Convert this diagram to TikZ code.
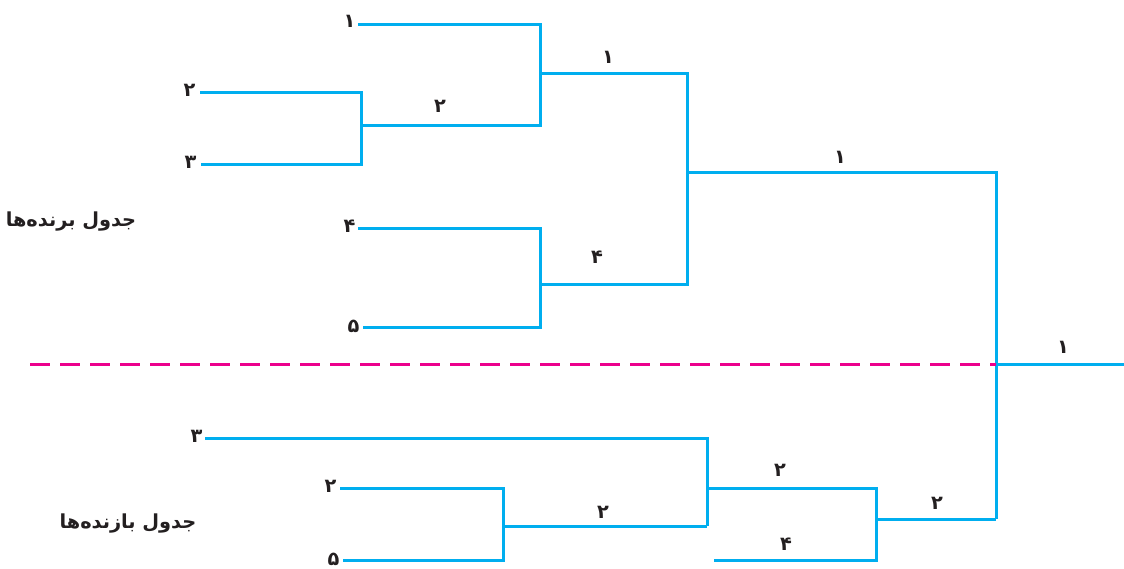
\documentclass[tikz,border=0pt]{standalone}
\usepackage{fontspec}
\newfontfamily\arabicfont[Script=Arabic]{DejaVu Sans}
\TeXXeTstate=1
\definecolor{brc}{HTML}{00AEEF}
\definecolor{dashc}{HTML}{EC008C}
\definecolor{txt}{HTML}{231F20}
\begin{document}
\begin{tikzpicture}[x=0.75pt,y=-0.75pt,
  br/.style={draw=brc, line width=2.25pt},
  sep/.style={draw=dashc, line width=2.25pt, dash pattern=on 15pt off 7.5pt},
  num/.style={font=\arabicfont\bfseries\fontsize{14.5}{16}\selectfont, text=txt, inner sep=1pt},
  ttl/.style={font=\arabicfont\bfseries\fontsize{14.5}{17}\selectfont, text=txt, inner sep=0pt}]
\useasboundingbox (0,0) rectangle (1124,568);
% leaf coordinates (upper)
\coordinate (L1) at (358,24);
\coordinate (L2) at (200,92);
\coordinate (L3) at (201,164);
\coordinate (L4) at (358,228);
\coordinate (L5) at (363,327);
% junctions (upper)
\coordinate (J23) at (361,125);
\coordinate (J1) at (540,125);
\coordinate (M1) at (540,73);
\coordinate (J45a) at (540,327);
\coordinate (M45) at (540,284);
\coordinate (JW) at (687,284);
\coordinate (MW) at (687,172);
\coordinate (F) at (996,172);
\coordinate (FL) at (996,519);
\coordinate (FM) at (996,364);
\coordinate (OUT) at (1124,364);
\coordinate (D0) at (30,364);
% lower
\coordinate (B3) at (205,438);
\coordinate (B2) at (340,488);
\coordinate (B5) at (343,560);
\coordinate (K25) at (503,560);
\coordinate (M25) at (503,526);
\coordinate (K3) at (707,526);
\coordinate (M3) at (707,488);
\coordinate (K4) at (876,488);
\coordinate (B4) at (714,560);
\coordinate (M4) at (876,519);

% upper bracket
\draw[br] (L2) -| (J23) |- (L3);
\draw[br] (L1) -| (J1) -- (J23);
\draw[br] (M1) -| (JW) -- (M45);
\draw[br] (L4) -| (J45a) -- (L5);
\draw[br] (MW) -- (F) -- (FL);
\draw[br] (FM) -- (OUT);
% separator
\draw[sep] (D0) -- (FM);
% lower bracket
\draw[br] (B2) -| (K25) -- (B5);
\draw[br] (M25) -- (K3);
\draw[br] (B3) -| (K3);
\draw[br] (M3) -- (K4) |- (B4);
\draw[br] (M4) -- (FL);

% leaf labels
\node[num,anchor=east] (t1) at (357,21) {۱};
\node[num,anchor=east] (t2) at (197,90) {۲};
\node[num,anchor=east] (t3) at (198,162) {۳};
\node[num,anchor=east] (t4) at (357,226) {۴};
\node[num,anchor=east] (t5) at (361,326) {۵};
\node[num,anchor=east] (u3) at (204,436) {۳};
\node[num,anchor=east] (u2) at (338,486) {۲};
\node[num,anchor=east] (u5) at (341,559) {۵};
% winner labels
\node[num] (w23) at (440,106) {۲};
\node[num] (w1) at (608,57) {۱};
\node[num] (w45) at (597,257) {۴};
\node[num] (wU) at (840,157) {۱};
\node[num] (wF) at (1063,347) {۱};
\node[num] (v25) at (603,512) {۲};
\node[num] (v3) at (780,470) {۲};
\node[num] (v4) at (786,544) {۴};
\node[num] (vL) at (937,503) {۲};
% titles
\node[ttl] (tw) at (71,222) {\beginR جدول برنده^^^^200cها\endR};
\node[ttl] (tl) at (128,524) {\beginR جدول بازنده^^^^200cها\endR};
\end{tikzpicture}
\end{document}
